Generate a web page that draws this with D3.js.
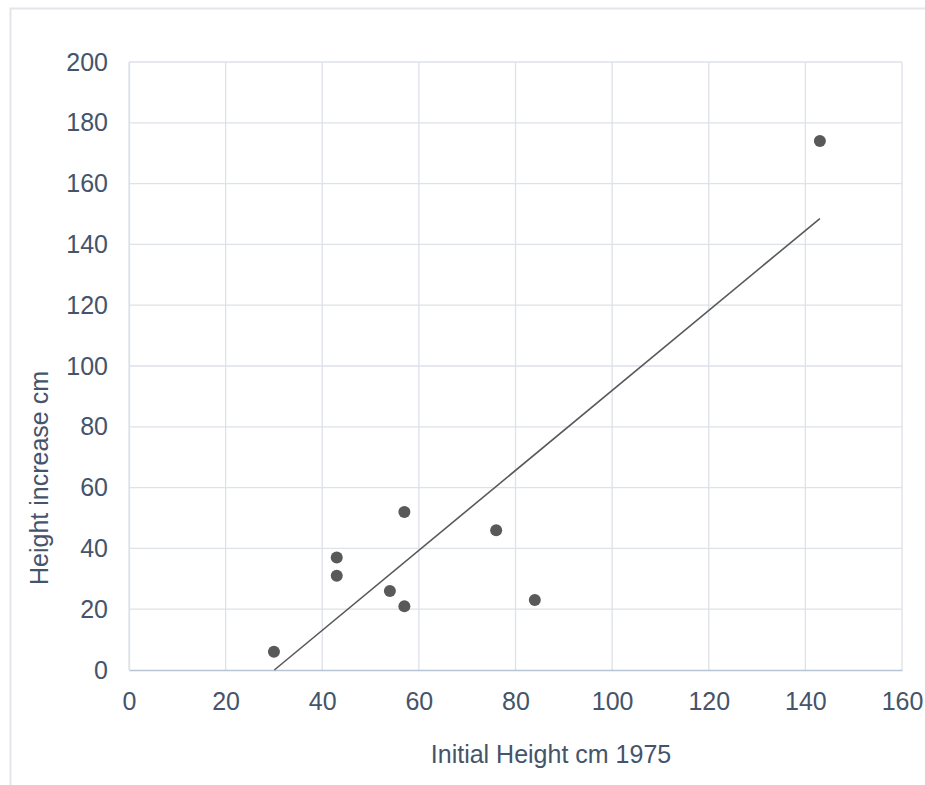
<!DOCTYPE html>
<html><head><meta charset="utf-8">
<script src="https://cdn.jsdelivr.net/npm/d3@7"></script>
<style>body{margin:0;background:#fff;}svg{display:block;}</style>
</head><body>
<script>
const initialHeight = [30, 43, 43, 54, 57, 57, 76, 84, 143];
const heightIncrease = [6, 37, 31, 26, 52, 21, 46, 23, 174];
const xTicks = [0, 20, 40, 60, 80, 100, 120, 140, 160];
const yTicks = [0, 20, 40, 60, 80, 100, 120, 140, 160, 180, 200];
const xTitle = "Initial Height cm 1975";
const yTitle = "Height increase cm";

const W = 925, H = 785;
const m = {left: 129, top: 62, right: 902, bottom: 670};
const svg = d3.select("body").append("svg").attr("width", W).attr("height", H);

// outer chart border
svg.append("rect").attr("x", 10.5).attr("y", 8.5).attr("width", 1000).attr("height", 1000)
  .attr("fill", "none").attr("stroke", "#e2e5ea").attr("stroke-width", 2);

const x = d3.scaleLinear().domain([0, 160]).range([m.left, m.right]);
const y = d3.scaleLinear().domain([0, 200]).range([m.bottom, m.top]);

const font = "Liberation Sans, Arial, sans-serif";
const textCol = "#44546a";
const fs = 25;

// gridlines
svg.append("g").selectAll("line").data(xTicks).join("line")
  .attr("x1", d => x(d)).attr("x2", d => x(d)).attr("y1", m.top).attr("y2", m.bottom)
  .attr("stroke", "#dde1e8").attr("stroke-width", 1.3);
svg.append("g").selectAll("line").data(yTicks.filter(d => d > 0)).join("line")
  .attr("x1", m.left).attr("x2", m.right).attr("y1", d => y(d)).attr("y2", d => y(d))
  .attr("stroke", "#dde1e8").attr("stroke-width", 1.3);

// axes
const xAxis = svg.append("g").attr("transform", `translate(0,${m.bottom})`)
  .call(d3.axisBottom(x).tickValues(xTicks).tickSize(0).tickPadding(22));
xAxis.select(".domain").attr("stroke", "#b8c3d4").attr("stroke-width", 1.3);
xAxis.selectAll("text").attr("font-family", font).attr("font-size", fs).attr("fill", textCol);

const yAxis = svg.append("g").attr("transform", `translate(${m.left},0)`)
  .call(d3.axisLeft(y).tickValues(yTicks).tickSize(0).tickPadding(21));
yAxis.select(".domain").attr("stroke", "#dde1e8").attr("stroke-width", 1.3);
yAxis.selectAll("text").attr("font-family", font).attr("font-size", fs).attr("fill", textCol);

// titles
svg.append("text").attr("x", 551).attr("y", 763)
  .attr("text-anchor", "middle").attr("font-family", font).attr("font-size", fs)
  .attr("fill", textCol).text(xTitle);
svg.append("text").attr("transform", `translate(48,478) rotate(-90)`)
  .attr("text-anchor", "middle").attr("font-family", font).attr("font-size", fs)
  .attr("fill", textCol).text(yTitle);

// linear trendline (least squares)
const n = initialHeight.length;
const mx = d3.mean(initialHeight), my = d3.mean(heightIncrease);
let sxy = 0, sxx = 0;
for (let i = 0; i < n; i++) { sxy += (initialHeight[i] - mx) * (heightIncrease[i] - my); sxx += (initialHeight[i] - mx) ** 2; }
const slope = sxy / sxx, icpt = my - slope * mx;
let x0 = d3.min(initialHeight), x1 = d3.max(initialHeight);
if (slope * x0 + icpt < 0) x0 = -icpt / slope;
svg.append("line").attr("x1", x(x0)).attr("y1", y(slope * x0 + icpt))
  .attr("x2", x(x1)).attr("y2", y(slope * x1 + icpt))
  .attr("stroke", "#595959").attr("stroke-width", 1.6);

// points
svg.append("g").selectAll("circle").data(initialHeight).join("circle")
  .attr("cx", d => x(d)).attr("cy", (d, i) => y(heightIncrease[i])).attr("r", 6)
  .attr("fill", "#595959");
</script>
</body></html>
